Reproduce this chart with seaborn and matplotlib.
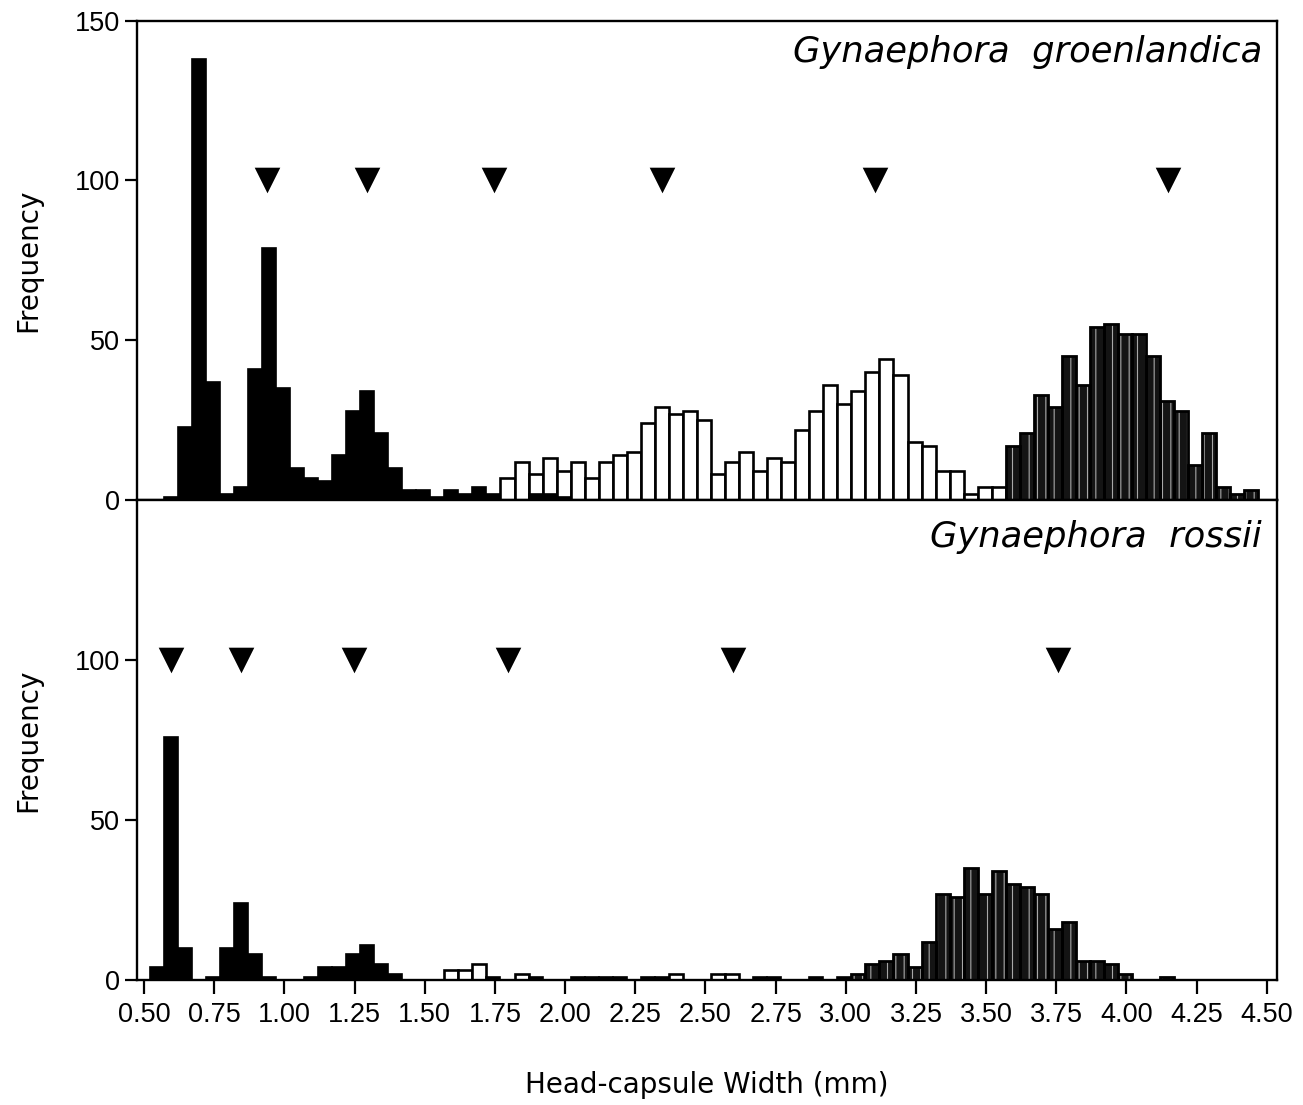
import numpy as np
import pandas as pd
import matplotlib
matplotlib.use("Agg")
import matplotlib.pyplot as plt
import seaborn as sns

# ---------------- data (bin counts, bin width 0.05 mm) ----------------
BIN = 0.05

# Gynaephora groenlandica (top panel)
top_black_start = 0.57
top_black = [1, 23, 138, 37, 2, 4, 41, 79, 35, 10, 7, 6, 14, 28, 34, 21, 10,
             3, 3, 1, 3, 2, 4, 2, 0, 0, 2, 2, 1]
top_white_start = 1.77
top_white = [7, 12, 8, 13, 9, 12, 7, 12, 14, 15, 24, 29, 27, 28, 25, 8, 12, 15,
             9, 13, 12, 22, 28, 36, 30, 34, 40, 44, 39, 18, 17, 9, 9, 2, 4, 4]
top_gray_start = 3.57
top_gray = [17, 21, 33, 29, 45, 36, 54, 55, 52, 52, 45, 31, 28, 11, 21, 4, 2, 3]
top_instar_means = [0.94, 1.295, 1.747, 2.345, 3.104, 4.147]

# Gynaephora rossii (bottom panel)
bot_black_start = 0.52
bot_black = [4, 76, 10, 0, 1, 10, 24, 8, 1, 0, 0, 1, 4, 4, 8, 11, 5, 2, 0, 0,
             0, 0, 0, 0, 1, 0, 0, 1, 0, 0, 1, 1, 1, 1, 0, 1, 1, 0, 0, 0,
             0, 0, 0, 1, 1, 0, 0, 1, 0, 1]
bot_white_start = 1.57
bot_white = [3, 3, 5, 0, 0, 2, 0, 0, 0, 0, 0, 0, 0, 0, 0, 0, 2, 0, 0, 2, 2]
bot_gray_start = 3.02
bot_gray = [2, 5, 6, 8, 4, 12, 27, 26, 35, 27, 34, 30, 29, 27, 16, 18, 6, 6,
            5, 2, 0, 0, 1]
bot_instar_means = [0.598, 0.844, 1.248, 1.798, 2.60, 3.755]
marker_level = 100

x_ticks = [0.50, 0.75, 1.00, 1.25, 1.50, 1.75, 2.00, 2.25, 2.50, 2.75,
           3.00, 3.25, 3.50, 3.75, 4.00, 4.25, 4.50]
x_ticklabels = ["%.2f" % v for v in x_ticks]
top_yticks = [0, 50, 100, 150]
bot_yticks = [0, 50, 100]
top_title = "Gynaephora  groenlandica"
bot_title = "Gynaephora  rossii"
x_label = "Head-capsule Width (mm)"
y_label = "Frequency"

# ---------------- style ----------------
sns.set_theme(style="ticks")
plt.rcParams["font.family"] = ["DejaVu Sans"]
plt.rcParams["hatch.linewidth"] = 0.8
plt.rcParams["text.color"] = "black"
plt.rcParams["axes.labelcolor"] = "black"
plt.rcParams["xtick.color"] = "black"
plt.rcParams["ytick.color"] = "black"
tick_family = ["Liberation Sans Narrow", "Liberation Sans", "DejaVu Sans"]

fig = plt.figure(figsize=(13.03, 11.05), dpi=100)
ax_top = fig.add_axes([0.1049, 0.5475, 0.8749, 0.4338])
ax_bot = fig.add_axes([0.1049, 0.1131, 0.8749, 0.4344])


def frame_of(start, counts):
    n = len(counts)
    centers = start + BIN * (np.arange(n) + 0.5)
    return pd.DataFrame({"width": centers, "count": np.asarray(counts, float)})


def draw(ax, start, counts, kind):
    df = frame_of(start, counts)
    rng = (start, start + BIN * len(counts))
    common = dict(data=df, x="width", weights="count", binwidth=BIN,
                  binrange=rng, ax=ax)
    if kind == "white":
        sns.histplot(**common, fill=True, color="white",
                     edgecolor="black", linewidth=1.9, alpha=1)
    elif kind == "black":
        sns.histplot(**common, fill=True, color="black",
                     edgecolor="black", linewidth=1.2, alpha=1)
    else:
        sns.histplot(**common, fill=True, color="#141414",
                     edgecolor="#a8a8a8", linewidth=0, alpha=1, hatch="||")
        sns.histplot(**common, fill=False, color="black", linewidth=2.0)


for ax, parts, means in [
    (ax_top, [(top_white_start, top_white, "white"),
              (top_gray_start, top_gray, "gray"),
              (top_black_start, top_black, "black")], top_instar_means),
    (ax_bot, [(bot_white_start, bot_white, "white"),
              (bot_gray_start, bot_gray, "gray"),
              (bot_black_start, bot_black, "black")], bot_instar_means),
]:
    for start, counts, kind in parts:
        draw(ax, start, counts, kind)
    sns.scatterplot(x=means, y=[marker_level] * len(means), ax=ax, marker="v",
                    s=340, color="black", edgecolor="black", linewidth=0,
                    zorder=5)
    ax.set_xlim(0.474, 4.535)
    ax.set_ylim(0, 150)
    ax.set_xlabel("")
    ax.set_ylabel("")
    for sp in ax.spines.values():
        sp.set_visible(True)
        sp.set_linewidth(1.7)
        sp.set_color("black")
    ax.tick_params(axis="y", direction="out", length=9, width=1.6, pad=3,
                   labelsize=19.5, colors="black")
    ax.tick_params(axis="x", direction="out", length=10, width=1.6, pad=6,
                   labelsize=19.5, colors="black")

ax_top.set_yticks(top_yticks)
ax_top.set_yticklabels([str(v) for v in top_yticks], family=tick_family)
ax_top.set_xticks(x_ticks)
ax_top.tick_params(axis="x", length=0, labelbottom=False)

ax_bot.set_yticks(bot_yticks)
ax_bot.set_yticklabels([str(v) for v in bot_yticks], family=tick_family)
ax_bot.set_xticks(x_ticks)
ax_bot.set_xticklabels(x_ticklabels, family=tick_family)

ax_top.text(0.987, 0.935, top_title, transform=ax_top.transAxes, ha="right",
            va="center", fontsize=25.5, style="italic", color="black")
ax_bot.text(0.987, 0.923, bot_title, transform=ax_bot.transAxes, ha="right",
            va="center", fontsize=25.5, style="italic", color="black")

fig.text(0.022, 0.7647, y_label, rotation=90, ha="center", va="center",
         fontsize=20, color="black")
fig.text(0.022, 0.3303, y_label, rotation=90, ha="center", va="center",
         fontsize=20, color="black")
fig.text(0.5426, 0.0181, x_label, ha="center", va="center", fontsize=20,
         color="black")

fig.savefig("out.png", dpi=100, facecolor="white")
